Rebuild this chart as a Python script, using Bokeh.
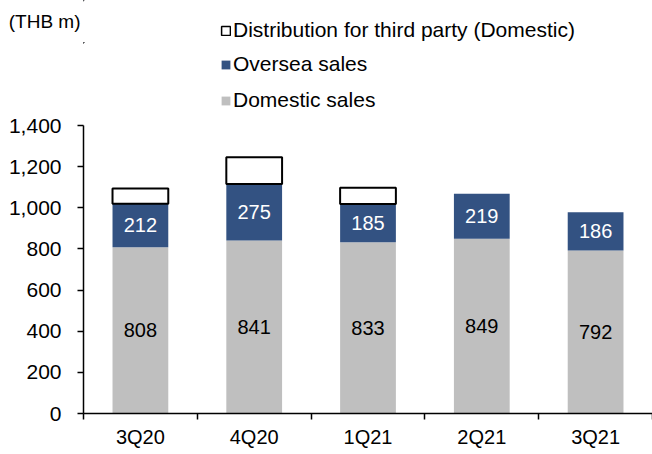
from bokeh.plotting import figure
from bokeh.layouts import column
from bokeh.models import (ColumnDataSource, FixedTicker, NumeralTickFormatter, Range1d,
                          Legend, LegendItem, LabelSet)
from bokeh.core.properties import value
from bokeh.embed import file_html
from bokeh.resources import INLINE

quarters = ["3Q20", "4Q20", "1Q21", "2Q21", "3Q21"]
domestic = [808, 841, 833, 849, 792]
oversea = [212, 275, 185, 219, 186]
distribution = [74, 130, 80, 0, 0]
series_names = ["Distribution for third party (Domestic)", "Oversea sales", "Domestic sales"]
unit_label = "(THB m)"

FONT = "Liberation Sans"
GRAY = "#BFBFBF"
BLUE = "#335282"
W = 0.49
TOTAL_W, TOTAL_H = 652, 454
HEAD_A, HEAD_B = 42, 71

xs = list(range(len(quarters)))
ovs_top = [d + o for d, o in zip(domestic, oversea)]
dist_top = [t + x for t, x in zip(ovs_top, distribution)]

src = ColumnDataSource(dict(
    x=xs, dom_top=domestic, ovs_top=ovs_top,
    dom_mid=[d / 2 for d in domestic],
    ovs_mid=[d + o / 2 for d, o in zip(domestic, oversea)],
    dom_lbl=[str(v) for v in domestic], ovs_lbl=[str(v) for v in oversea],
))
dist_src = ColumnDataSource(dict(
    x=[x for x, v in zip(xs, distribution) if v > 0],
    bottom=[b for b, v in zip(ovs_top, distribution) if v > 0],
    top=[t for t, v in zip(dist_top, distribution) if v > 0],
))


def add_bars(fig, dist_lw=2):
    r_dom = fig.vbar(x="x", bottom=0, top="dom_top", width=W, source=src,
                     fill_color=GRAY, line_color=None)
    r_ovs = fig.vbar(x="x", bottom="dom_top", top="ovs_top", width=W, source=src,
                     fill_color=BLUE, line_color=None)
    r_dist = fig.vbar(x="x", bottom="bottom", top="top", width=W, source=dist_src,
                      fill_color="white", line_color="black", line_width=dist_lw)
    return r_dom, r_ovs, r_dist


def header(height):
    # legend strip: its x/y window lies far away from the data, so the bars themselves stay hidden
    f = figure(width=TOTAL_W, height=height, output_backend="svg", toolbar_location=None,
               x_range=Range1d(1000, 1005), y_range=Range1d(-1000 - height, -1000),
               x_axis_type=None,
               min_border_left=83, min_border_right=0, min_border_top=0, min_border_bottom=0)
    f.outline_line_color = None
    f.grid.visible = False
    ax = f.yaxis[0]
    ax.ticker = FixedTicker(ticks=[])
    ax.axis_line_color = None
    ax.major_tick_line_color = None
    ax.minor_tick_line_color = None
    ax.major_label_text_font_size = "0px"
    return f


def make_legend(items, vy):
    return Legend(items=items, location=(137, vy), orientation="vertical",
                  label_text_font=FONT, label_text_font_size="21px", label_text_color="black",
                  glyph_width=11, glyph_height=11, label_standoff=2, spacing=12, label_height=20,
                  padding=0, margin=0, border_line_color=None, background_fill_alpha=0)


# header A: unit label + first legend entry
head_a = header(HEAD_A)
a_dom, a_ovs, a_dist = add_bars(head_a, dist_lw=1.5)
ya_a = head_a.yaxis[0]
ya_a.axis_label = unit_label
ya_a.axis_label_orientation = "horizontal"
ya_a.axis_label_standoff = 3
ya_a.axis_label_text_font = FONT
ya_a.axis_label_text_font_size = "19px"
ya_a.axis_label_text_font_style = "normal"
ya_a.axis_label_text_color = "black"
head_a.add_layout(make_legend([LegendItem(label=series_names[0], renderers=[a_dist])], 0), "center")

# header B: remaining legend entries
head_b = header(HEAD_B)
b_dom, b_ovs, b_dist = add_bars(head_b)
head_b.add_layout(make_legend([LegendItem(label=series_names[1], renderers=[b_ovs]),
                               LegendItem(label=series_names[2], renderers=[b_dom])], 1), "center")

# ---------- main chart ----------
p = figure(width=TOTAL_W, height=TOTAL_H - HEAD_A - HEAD_B, output_backend="svg",
           toolbar_location=None,
           x_range=Range1d(-0.5, len(quarters) - 0.5), y_range=Range1d(0, 1400),
           min_border_left=83, min_border_right=0, min_border_top=12, min_border_bottom=41)
p.outline_line_color = None
p.grid.visible = False
add_bars(p)

p.add_layout(LabelSet(x="x", y="dom_mid", text="dom_lbl", source=src,
                      text_align="center", text_baseline="middle",
                      text_font=value(FONT), text_font_size="20px", text_color="black"))
p.add_layout(LabelSet(x="x", y="ovs_mid", text="ovs_lbl", source=src,
                      text_align="center", text_baseline="middle",
                      text_font=value(FONT), text_font_size="20px", text_color="white"))

xa = p.xaxis[0]
xa.ticker = FixedTicker(ticks=xs, minor_ticks=[i - 0.5 for i in range(len(quarters) + 1)])
xa.major_label_overrides = {i: q for i, q in enumerate(quarters)}
xa.major_tick_in = 0
xa.major_tick_out = 0
xa.minor_tick_in = 0
xa.minor_tick_out = 6
xa.minor_tick_line_color = "black"
xa.minor_tick_line_width = 1.5
xa.axis_line_color = "black"
xa.axis_line_width = 1.5
xa.major_label_standoff = 6
xa.major_label_text_font = FONT
xa.major_label_text_font_size = "20px"
xa.major_label_text_color = "black"

ya = p.yaxis[0]
ya.ticker = FixedTicker(ticks=list(range(0, 1401, 200)))
ya.formatter = NumeralTickFormatter(format="0,0")
ya.minor_tick_line_color = None
ya.major_tick_in = 0
ya.major_tick_out = 6
ya.major_tick_line_color = "black"
ya.major_tick_line_width = 1.5
ya.axis_line_color = "black"
ya.axis_line_width = 1.5
ya.major_label_standoff = 16
ya.major_label_text_font = FONT
ya.major_label_text_font_size = "21px"
ya.major_label_text_color = "black"

layout = column(head_a, head_b, p, spacing=0)
open("out.html", "w").write(file_html(layout, INLINE))
